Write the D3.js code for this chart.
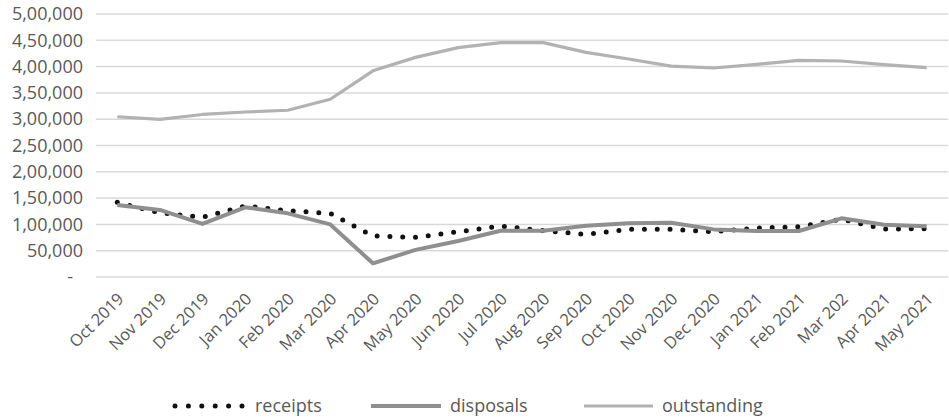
<!DOCTYPE html>
<html>
<head>
<meta charset="utf-8">
<script src="https://cdn.jsdelivr.net/npm/d3@7"></script>
<style>
  html, body { margin: 0; padding: 0; background: #fff; }
  svg { display: block; font-family: "Open Sans", "Lato", sans-serif; }
</style>
</head>
<body>
<svg id="chart" width="949" height="420"></svg>
<script>
// Monthly case flow
const months = ["Oct 2019", "Nov 2019", "Dec 2019", "Jan 2020", "Feb 2020", "Mar 2020",
  "Apr 2020", "May 2020", "Jun 2020", "Jul 2020", "Aug 2020", "Sep 2020", "Oct 2020",
  "Nov 2020", "Dec 2020", "Jan 2021", "Feb 2021", "Mar 202", "Apr 2021", "May 2021"];

const receipts = [142000, 122000, 113500, 135000, 126000, 121000, 78000, 75500, 86000, 97000,
  88000, 81000, 90700, 90700, 86000, 93000, 95700, 109700, 91300, 91800];

const disposals = [137000, 127500, 101000, 132500, 121000, 100000, 26000, 51500, 68500, 88000,
  88000, 97500, 102000, 103000, 90500, 87500, 87500, 111500, 99500, 96500];

const outstanding = [304700, 299500, 309000, 313700, 317000, 338000, 392000, 417500, 436000, 445500,
  445500, 427000, 414500, 401000, 397300, 404300, 412000, 410600, 403600, 398000];

const yTicks = [0, 50000, 100000, 150000, 200000, 250000, 300000, 350000, 400000, 450000, 500000];

const seriesNames = ["receipts", "disposals", "outstanding"];

// Indian digit grouping (x,xx,xxx); zero shown as a dash
function indianFormat(v) {
  if (v === 0) return "-";
  const s = String(Math.round(v));
  if (s.length <= 3) return s;
  const last3 = s.slice(-3);
  let rest = s.slice(0, -3);
  const parts = [];
  while (rest.length > 2) { parts.unshift(rest.slice(-2)); rest = rest.slice(0, -2); }
  if (rest.length) parts.unshift(rest);
  return parts.join(",") + "," + last3;
}

const svg = d3.select("#chart");
const margin = { left: 96, right: 1, top: 14, bottom: 143 };
const W = 949, H = 420;

const x = d3.scalePoint().domain(months).range([margin.left, W - margin.right]).padding(0.5);
const y = d3.scaleLinear().domain([0, 500000]).range([H - margin.bottom, margin.top]);

const textColor = "#595959";

// Horizontal gridlines
svg.append("g")
  .selectAll("line")
  .data(yTicks)
  .join("line")
  .attr("x1", margin.left)
  .attr("x2", W - margin.right)
  .attr("y1", d => y(d))
  .attr("y2", d => y(d))
  .attr("stroke", "#d9d9d9")
  .attr("stroke-width", 1.5);

// Y axis labels
const yAxis = svg.append("g")
  .attr("transform", `translate(${margin.left - 13},0)`)
  .call(d3.axisLeft(y).tickValues(yTicks).tickFormat(indianFormat).tickSize(0).tickPadding(0));
yAxis.select(".domain").remove();
yAxis.selectAll("text")
  .attr("fill", textColor)
  .style("font-size", "18px")
  .style("font-family", "'Open Sans', sans-serif")
  .attr("dx", d => d === 0 ? -10 : 0);

// X axis labels, rotated
const xAxis = svg.append("g")
  .attr("transform", `translate(0,${H - margin.bottom})`)
  .call(d3.axisBottom(x).tickSize(0).tickPadding(0));
xAxis.select(".domain").remove();
xAxis.selectAll("text")
  .attr("fill", textColor)
  .style("font-size", "16.5px")
  .style("font-family", "'Open Sans', sans-serif")
  .attr("text-anchor", "end")
  .attr("dy", null)
  .attr("y", 0)
  .attr("transform", "translate(7,23) rotate(-45)");

// Lines
const line = d3.line().x((d, i) => x(months[i])).y(d => y(d));

svg.append("path")
  .datum(receipts)
  .attr("d", line)
  .attr("fill", "none")
  .attr("stroke", "#111")
  .attr("stroke-width", 5)
  .attr("stroke-linecap", "round")
  .attr("stroke-dasharray", "0 12.8");

svg.append("path")
  .datum(disposals)
  .attr("d", line)
  .attr("fill", "none")
  .attr("stroke", "#8f8f8f")
  .attr("stroke-width", 4)
  .attr("stroke-linejoin", "round");

svg.append("path")
  .datum(outstanding)
  .attr("d", line)
  .attr("fill", "none")
  .attr("stroke", "#b2b2b2")
  .attr("stroke-width", 3.2)
  .attr("stroke-linejoin", "round");

// Legend
const legendY = 406;
const legendItems = [
  { name: seriesNames[0], x0: 175, x1: 243, tx: 255, stroke: "#111", width: 5, dash: "0 13.4", cap: "round" },
  { name: seriesNames[1], x0: 371, x1: 441, tx: 450, stroke: "#8f8f8f", width: 4, dash: null, cap: "butt" },
  { name: seriesNames[2], x0: 584, x1: 653, tx: 662, stroke: "#b2b2b2", width: 3.2, dash: null, cap: "butt" }
];
const lg = svg.append("g");
lg.selectAll("line")
  .data(legendItems)
  .join("line")
  .attr("x1", d => d.x0).attr("x2", d => d.x1)
  .attr("y1", legendY).attr("y2", legendY)
  .attr("stroke", d => d.stroke)
  .attr("stroke-width", d => d.width)
  .attr("stroke-dasharray", d => d.dash)
  .attr("stroke-linecap", d => d.cap);
lg.selectAll("text")
  .data(legendItems)
  .join("text")
  .attr("x", d => d.tx)
  .attr("y", legendY + 6)
  .attr("fill", textColor)
  .style("font-size", "18px")
  .style("font-family", "'Open Sans', sans-serif")
  .text(d => d.name);
</script>
</body>
</html>
